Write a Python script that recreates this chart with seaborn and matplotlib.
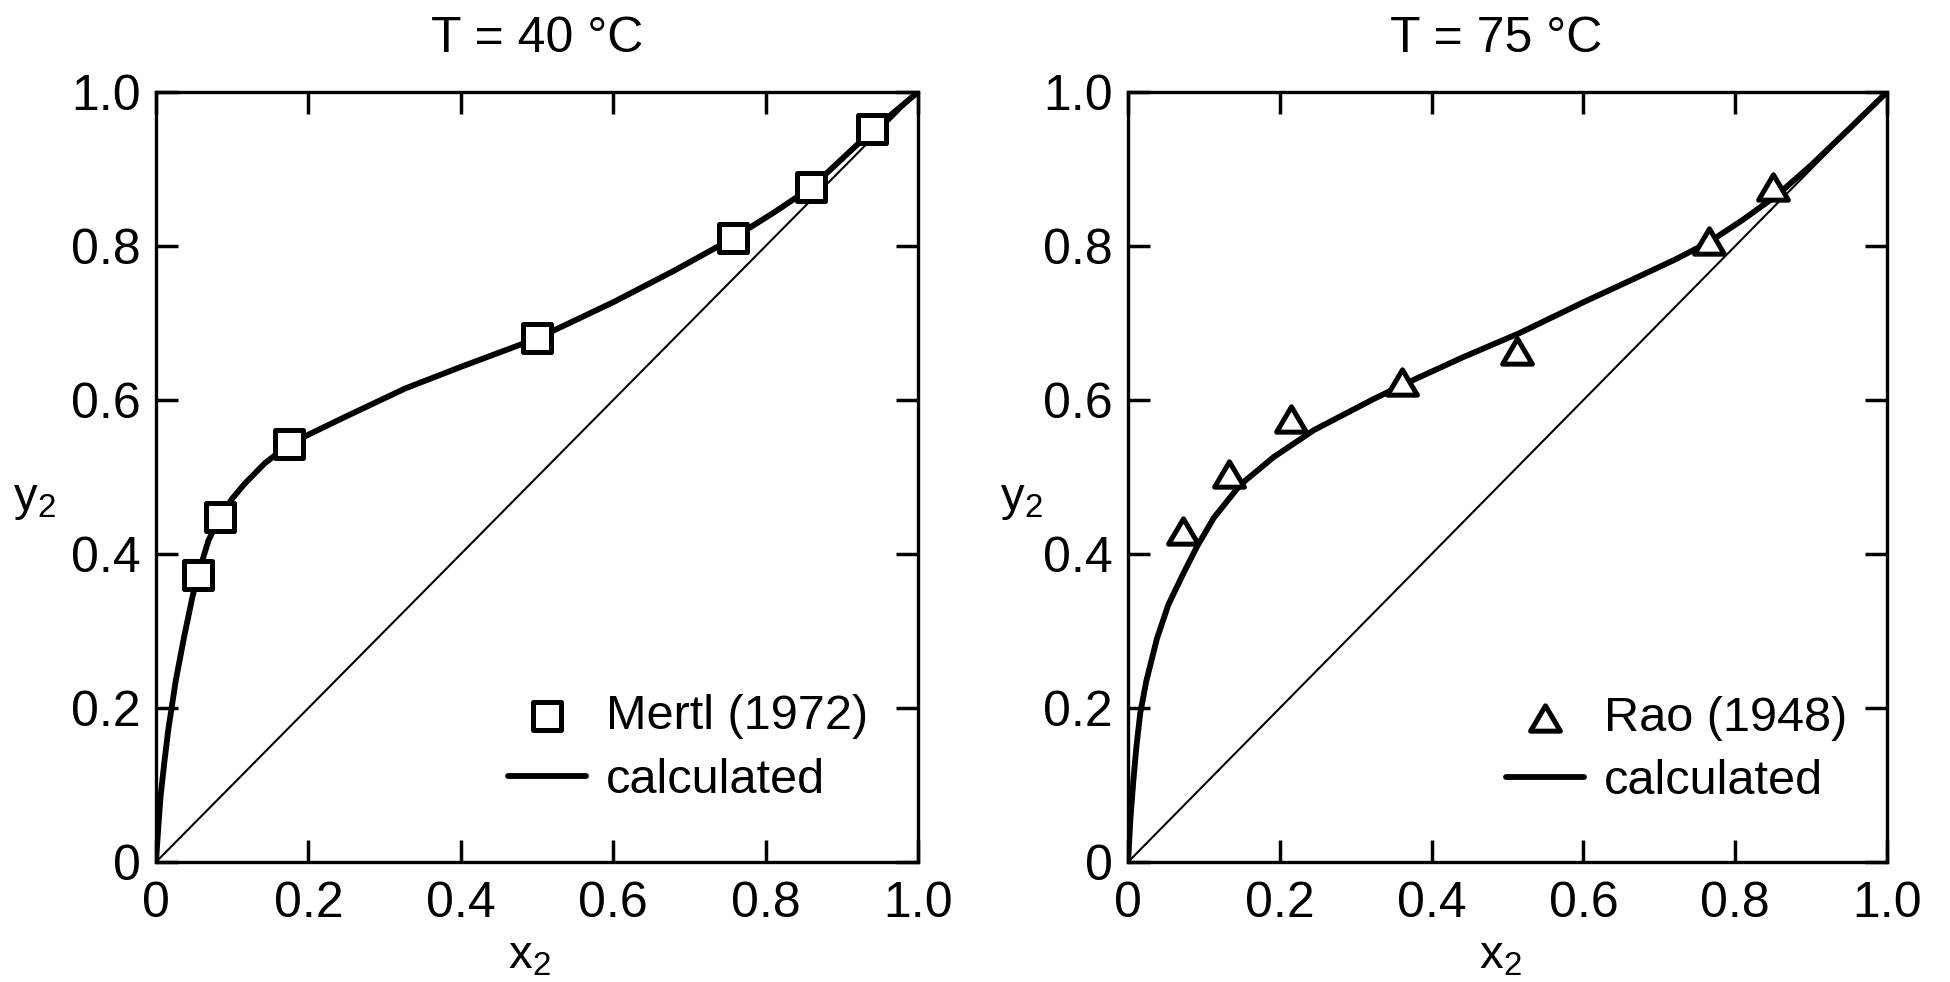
import numpy as np
import pandas as pd
import seaborn as sns
import matplotlib.pyplot as plt
from matplotlib.path import Path
from matplotlib.markers import MarkerStyle

# T = 40 C : Mertl (1972) points and calculated curve
mertl_x = [0.055, 0.084, 0.175, 0.50, 0.757, 0.86, 0.94]
mertl_y = [0.373, 0.448, 0.543, 0.68, 0.81, 0.876, 0.952]
calc40_x = [0.0, 0.003, 0.006, 0.011, 0.016, 0.026, 0.037, 0.048, 0.055, 0.069, 0.084,
            0.10, 0.117, 0.143, 0.175, 0.248, 0.327, 0.40, 0.50, 0.60, 0.68, 0.757,
            0.81, 0.86, 0.94, 1.0]
calc40_y = [0.0, 0.045, 0.085, 0.13, 0.171, 0.236, 0.293, 0.345, 0.373, 0.418, 0.448,
            0.472, 0.492, 0.518, 0.543, 0.578, 0.615, 0.643, 0.68, 0.727, 0.768, 0.81,
            0.843, 0.876, 0.95, 1.0]

# T = 75 C : Rao (1948) points and calculated curve
rao_x = [0.072, 0.133, 0.215, 0.361, 0.512, 0.765, 0.85]
rao_y = [0.43, 0.504, 0.575, 0.624, 0.664, 0.807, 0.877]
calc75_x = [0.0, 0.003, 0.007, 0.011, 0.016, 0.024, 0.038, 0.053, 0.073, 0.091, 0.113,
            0.148, 0.192, 0.245, 0.325, 0.367, 0.44, 0.516, 0.60, 0.657, 0.72, 0.767,
            0.81, 0.855, 0.90, 0.95, 1.0]
calc75_y = [0.0, 0.055, 0.106, 0.15, 0.193, 0.235, 0.29, 0.334, 0.375, 0.41, 0.447,
            0.49, 0.526, 0.561, 0.602, 0.622, 0.655, 0.687, 0.727, 0.753, 0.782, 0.806,
            0.834, 0.866, 0.905, 0.952, 1.0]

diag = [0.0, 1.0]
ticks = [0.0, 0.2, 0.4, 0.6, 0.8, 1.0]
tick_labels = ["0", "0.2", "0.4", "0.6", "0.8", "1.0"]

sns.set_style("ticks")
plt.rcParams['font.family'] = ['Liberation Sans', 'DejaVu Sans']
plt.rcParams['mathtext.fontset'] = 'custom'
plt.rcParams['mathtext.rm'] = 'Liberation Sans'
plt.rcParams['mathtext.default'] = 'regular'
for key in ['text.color', 'axes.labelcolor', 'xtick.color', 'ytick.color',
            'axes.edgecolor']:
    plt.rcParams[key] = 'black'

tri = MarkerStyle(Path([(0, 0.85), (-1, -0.85), (1, -0.85), (0, 0.85)], closed=True))


def panel(ax, px, py, cx, cy, marker, msize, name, title, title_x, ylab_x, leg_xy):
    sns.lineplot(x=cx, y=cy, ax=ax, sort=False, estimator=None, color='black',
                 lw=4.2, label='calculated', zorder=2)
    sns.lineplot(x=diag, y=diag, ax=ax, sort=False, estimator=None, color='black',
                 lw=1.5, zorder=1)
    sns.scatterplot(x=px, y=py, ax=ax, marker=marker, s=msize, color='white',
                    edgecolor='black', linewidth=3.6, label=name, zorder=3)
    ax.set_xlim(0, 1)
    ax.set_ylim(0, 1)
    ax.set_xticks(ticks, labels=tick_labels)
    ax.set_yticks(ticks, labels=tick_labels)
    ax.tick_params(axis='both', direction='in', length=16, width=2.5,
                   top=True, right=True, labelsize=36, color='black',
                   labelcolor='black')
    ax.tick_params(axis='x', pad=14)
    ax.tick_params(axis='y', pad=11)
    for sp in ax.spines.values():
        sp.set_linewidth(2.4)
        sp.set_color('black')
    ax.set_title(title, fontsize=36, pad=29, x=title_x, color='black')
    ax.set_xlabel('x$_2$', fontsize=34, color='black')
    ax.xaxis.set_label_coords(0.49, -0.123)
    ax.xaxis.label.set_verticalalignment('center')
    ax.set_ylabel('y$_2$', fontsize=34, rotation=0, color='black')
    ax.yaxis.set_label_coords(ylab_x, 0.47)
    ax.yaxis.label.set_verticalalignment('center')
    ax.yaxis.label.set_horizontalalignment('center')
    h, l = ax.get_legend_handles_labels()
    order = [l.index(name), l.index('calculated')]
    leg = ax.legend([h[i] for i in order], [l[i] for i in order], loc='lower right',
                    bbox_to_anchor=leg_xy, frameon=False, fontsize=35, borderpad=0,
                    borderaxespad=0, handlelength=1.6, handletextpad=0.4,
                    labelspacing=0.38, scatterpoints=1)
    for t in leg.get_texts():
        t.set_color('black')


fig = plt.figure(figsize=(19.5, 9.82), dpi=100)
ax1 = fig.add_axes([0.080, 0.1222, 0.3908, 0.7841])
ax2 = fig.add_axes([0.5785, 0.1222, 0.3892, 0.7841])

panel(ax1, mertl_x, mertl_y, calc40_x, calc40_y, 's', 380, 'Mertl (1972)',
      'T = 40 °C', 0.5, -0.16, (0.934, 0.077))
panel(ax2, rao_x, rao_y, calc75_x, calc75_y, tri, 460, 'Rao (1948)',
      'T = 75 °C', 0.485, -0.14, (0.947, 0.075))

fig.savefig('out.png', dpi=100, facecolor='white')
